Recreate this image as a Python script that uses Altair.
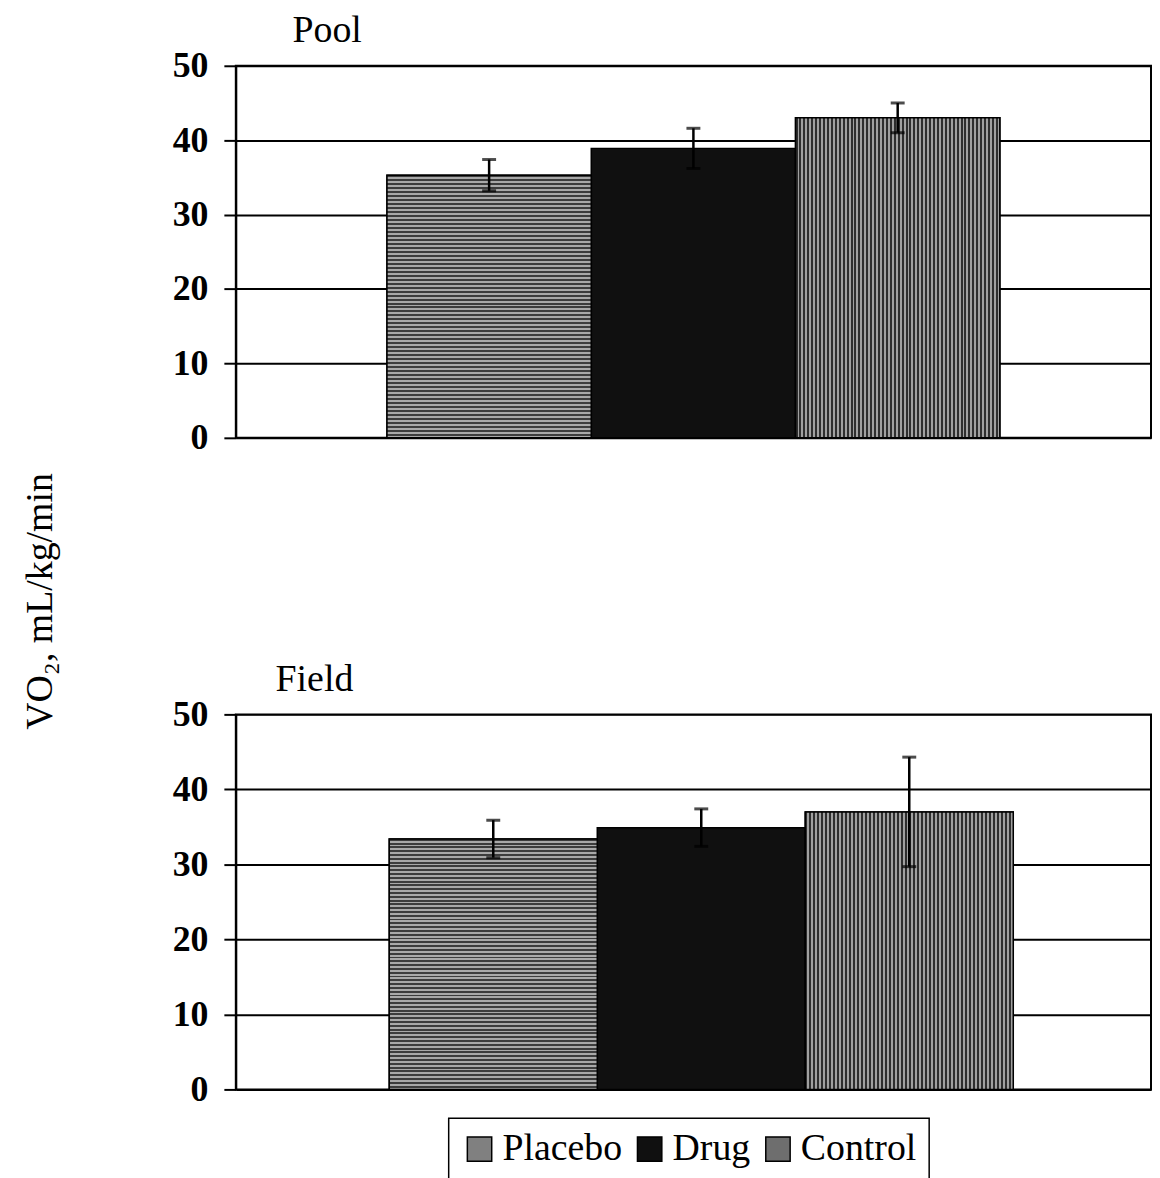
import altair as alt
import pandas as pd

# ---- data ----
treatments = ["Placebo", "Drug", "Control"]
pool_means = [35.3, 38.9, 43.0]
pool_errs = [2.1, 2.7, 2.0]
field_means = [33.4, 34.9, 37.0]
field_errs = [2.5, 2.5, 7.3]
y_ticks = [0, 10, 20, 30, 40, 50]
legend_colors = ["#808080", "#101010", "#6e6e6e"]

FONT = "Liberation Serif"


def stripes(c1, c2, n, vertical):
    stops = []
    for i in range(n):
        a = i / n
        m = (i + 0.5) / n
        b = (i + 1) / n
        stops += [
            {"offset": a, "color": c1},
            {"offset": m, "color": c1},
            {"offset": m, "color": c2},
            {"offset": b, "color": c2},
        ]
    g = {"gradient": "linear", "stops": stops}
    if vertical:
        g.update(x1=0, y1=0, x2=1, y2=0)
    else:
        g.update(x1=0, y1=0, x2=0, y2=1)
    return g


def panel(name, means, errs, pad_outer, align, height, title_dx, y_title):
    df = pd.DataFrame({"treatment": treatments, "mean": means, "err": errs})
    df["lo"] = df["mean"] - df["err"]
    df["hi"] = df["mean"] + df["err"]

    x = alt.X(
        "treatment:N",
        sort=treatments,
        scale=alt.Scale(paddingInner=0, paddingOuter=pad_outer, align=align),
        axis=None,
    )
    axis_kw = dict(
        values=y_ticks,
        domainColor="black",
        domainWidth=2,
        tickColor="black",
        tickWidth=2,
        tickSize=12,
        labelFont=FONT,
        labelFontSize=36,
        labelFontWeight="bold",
        labelColor="black",
        labelPadding=16,
        grid=True,
        gridColor="black",
        gridWidth=2,
        gridOpacity=1,
    )
    if y_title:
        axis_kw.update(
            title=y_title,
            titleFont=FONT,
            titleFontSize=38,
            titleFontWeight="normal",
            titleColor="black",
            titleX=-196,
            titleY=538,
            titleAlign="center",
            titleBaseline="middle",
            titleAngle=270,
        )
    else:
        axis_kw.update(title=None)
    y = alt.Y("mean:Q", scale=alt.Scale(domain=[0, 50], nice=False), axis=alt.Axis(**axis_kw))

    base = alt.Chart(df)
    bars = base.mark_bar(stroke="black", strokeWidth=1.5).encode(
        x=x,
        y=y,
        color=alt.Color(
            "treatment:N",
            sort=treatments,
            scale=alt.Scale(domain=treatments, range=legend_colors),
            legend=alt.Legend(
                orient="none",
                legendX=214,
                legendY=1058,
                direction="horizontal",
                title=None,
                strokeColor="black",
                padding=12,
                labelFont=FONT,
                labelFontSize=38,
                labelColor="black",
                labelLimit=0,
                labelOffset=4,
                symbolType="square",
                symbolSize=600,
                symbolStrokeColor="black",
                symbolStrokeWidth=1.5,
                symbolOpacity=1,
                columnPadding=8,
            ),
        ),
    )
    plac = (
        base.transform_filter(alt.datum.treatment == "Placebo")
        .mark_bar(fill=stripes("#3c3c3c", "#a8a8a8", 66, False), stroke="black", strokeWidth=1.5)
        .encode(x=x, y=y)
    )
    ctrl = (
        base.transform_filter(alt.datum.treatment == "Control")
        .mark_bar(fill=stripes("#2e2e2e", "#a0a0a0", 52, True), stroke="black", strokeWidth=1.5)
        .encode(x=x, y=y)
    )
    rule = base.mark_rule(color="black", strokeWidth=2.5).encode(x=x, y="lo:Q", y2="hi:Q")
    cap_hi = base.mark_tick(color="black", thickness=3, size=14).encode(x=x, y="hi:Q")
    cap_lo = base.mark_tick(color="black", thickness=3, size=14).encode(x=x, y="lo:Q")

    return alt.layer(bars, plac, ctrl, rule, cap_hi, cap_lo).properties(
        width=920,
        height=height,
        title=alt.TitleParams(
            name,
            anchor="start",
            frame="group",
            dx=title_dx,
            font=FONT,
            fontSize=38,
            fontWeight="normal",
            color="black",
            offset=-2,
        ),
    )


pool = panel("Pool", pool_means, pool_errs, 0.74, 0.5, 374, 57, "VO\u2082, mL/kg/min")
field = panel("Field", field_means, field_errs, 0.70, 0.527, 377, 40, None)

chart = (
    alt.vconcat(pool, field, spacing=278, bounds="flush")
    .resolve_scale(x="independent", color="shared")
    .configure_view(stroke="black", strokeWidth=2)
    .configure_legend(strokeWidth=1.5)
    .properties(padding={"left": 13, "top": 0, "right": 0, "bottom": 0}, background="white")
)

chart.save("out.html", embed_options={"renderer": "svg", "actions": False})
